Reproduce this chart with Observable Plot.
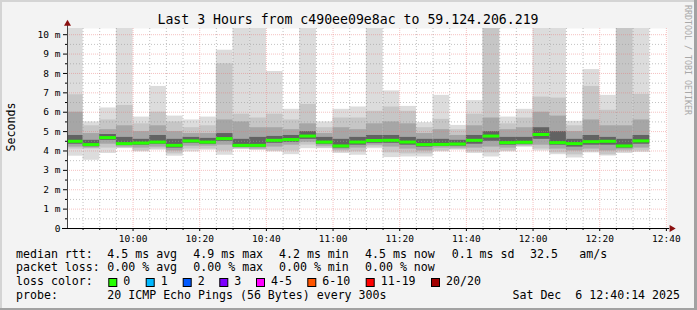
<!DOCTYPE html>
<html><head><meta charset="utf-8">
<script src="https://cdn.jsdelivr.net/npm/d3@7"></script>
<script src="https://cdn.jsdelivr.net/npm/@observablehq/plot@0.6"></script>
<style>body{margin:0;background:#f3f3f3;}</style>
</head><body><div id="chart"></div>
<script>
// 5-minute bins (start times), Sat Dec 6 2025
const times = ["09:40","09:45","09:50","09:55","10:00","10:05","10:10","10:15","10:20","10:25","10:30","10:35","10:40","10:45","10:50","10:55","11:00","11:05","11:10","11:15","11:20","11:25","11:30","11:35","11:40","11:45","11:50","11:55","12:00","12:05","12:10","12:15","12:20","12:25","12:30"];
// RTT in milliseconds (smoke bands from 20 pings)
const maxV   = [12,5.5,6.22,12,5.75,7.33,5.8,5.6,5.75,9.2,12,12,8.1,6.15,12,5.5,6.15,6.27,12,7.1,6.3,5.46,6.87,5.32,6.6,12,5.75,6.15,12,12,5.53,8.2,6.87,12,12];
const hi1    = [6.9,5.3,5.6,6.35,5.4,6.0,5.5,5.2,5.3,8.5,5.9,5.7,5.9,5.6,6.4,5.2,5.7,5.7,6.05,6.27,6.05,5.2,5.63,5.1,5.9,11,5.4,5.7,6.78,6.73,5.3,7.33,6.1,11,6.92];
const hi2    = [6.0,4.9,5.1,5.3,5.0,5.3,5.0,4.9,4.9,5.6,5.5,5.2,5.2,5.1,5.4,4.9,5.2,5.1,5.4,5.5,5.4,4.9,5.1,4.8,5.3,5.7,5.1,5.2,6.0,5.8,5.0,5.6,5.3,5.3,5.6];
const hi3    = [4.8,4.55,4.85,4.7,4.6,4.8,4.6,4.7,4.65,4.9,4.6,4.7,4.75,4.8,5.0,4.7,4.6,4.7,4.8,4.8,4.7,4.6,4.6,4.55,4.8,5.0,4.7,4.7,5.2,5.0,4.6,4.8,4.7,4.6,4.8];
const median = [4.5,4.33,4.69,4.38,4.41,4.46,4.29,4.52,4.46,4.64,4.29,4.29,4.55,4.59,4.77,4.46,4.26,4.46,4.54,4.55,4.46,4.33,4.34,4.36,4.55,4.77,4.43,4.45,4.85,4.43,4.38,4.48,4.5,4.26,4.52];
const lo3    = [4.35,4.22,4.55,4.3,4.3,4.35,4.15,4.4,4.35,4.5,4.2,4.2,4.4,4.45,4.6,4.35,4.15,4.3,4.4,4.4,4.3,4.2,4.25,4.25,4.35,4.5,4.3,4.35,4.6,4.3,4.2,4.3,4.3,4.15,4.35];
const lo2    = [4.2,4.15,4.35,4.2,4.15,4.2,4.0,4.25,4.25,4.3,4.15,4.1,4.2,4.3,4.45,4.25,4.05,4.15,4.3,4.2,4.1,4.0,4.15,4.15,4.15,4.2,4.15,4.28,4.3,4.1,4.0,4.1,4.0,4.05,4.15];
const lo1    = [4.1,4.1,4.15,4.15,4.0,4.1,3.85,4.1,4.1,4.0,4.1,4.05,4.0,4.0,4.3,4.15,3.95,3.95,4.2,3.9,3.85,3.85,4.0,4.08,3.95,3.9,4.0,4.22,4.1,3.9,3.8,3.95,3.8,3.95,4.0];
const minV   = [3.73,3.52,3.87,4.12,3.95,4.04,3.73,3.95,4.04,3.78,4.07,4.04,3.95,3.81,4.12,4.12,3.87,3.78,4.12,3.66,3.69,3.69,3.95,4.04,3.87,3.69,3.95,4.2,4.0,3.81,3.64,3.9,3.74,3.87,3.92];

const yTicks = [0,1,2,3,4,5,6,7,8,9,10];
const xTicks = ["10:00","10:20","10:40","11:00","11:20","11:40","12:00","12:20","12:40"];

const lossLabels = ["0","1","2","3","4-5","6-10","11-19","20/20"];
const lossColors = ["#26ff00","#00b8ff","#0059ff","#7e00ff","#ff00ff","#ff5500","#ff0000","#a10000"];

const titleText = "Last 3 Hours from c490ee09e8ac to 59.124.206.219";
const statsRtt  = ["4.5 ms avg","4.9 ms max","4.2 ms min","4.5 ms now","0.1 ms sd","32.5","am/s"];
const statsLoss = ["0.00 % avg","0.00 % max","0.00 % min","0.00 % now"];
const probeText = "20 ICMP Echo Pings (56 Bytes) every 300s";
const stampText = "Sat Dec  6 12:40:14 2025";

const T = s => new Date(`2025-12-06T${s.length === 5 ? s + ":00" : s}Z`);
const bars = times.map((t, i) => ({
  t0: T(t), t1: new Date(T(t).getTime() + 5 * 60000),
  maxV: maxV[i], hi1: hi1[i], hi2: hi2[i], hi3: hi3[i], median: median[i],
  lo3: lo3[i], lo2: lo2[i], lo1: lo1[i], minV: minV[i]
}));
const x0 = T("09:40:20"), x1 = T("12:40:20");
const minorX = d3.utcMinute.every(5).range(x0, x1).filter(d => d.getUTCMinutes() % 20 !== 0);
const majorX = xTicks.map(T);
const minorY = d3.range(0.5, 10, 1);
const majorY = yTicks.slice(1);
const fmt = d3.utcFormat("%H:%M");

const band = (lo, hi, fill) => Plot.rect(bars, {x1: "t0", x2: "t1", y1: lo, y2: hi, fill, clip: true});

const svg = Plot.plot({
  width: 697, height: 310,
  marginLeft: 67, marginRight: 30, marginTop: 28, marginBottom: 82,
  style: {background: "#f3f3f3", fontFamily: "DejaVu Sans Mono", fontSize: "9.5px", color: "#000"},
  x: {type: "utc", domain: [x0, x1]},
  y: {domain: [0, 10.32]},
  marks: [
    Plot.frame({fill: "white", stroke: null}),
    band("minV", "maxV", "#dcdcdc"),
    band("lo1", "hi1", "#c6c6c6"),
    band("lo2", "hi2", "#a6a6a6"),
    band("lo3", "hi3", "#626262"),
    Plot.ruleY(minorY, {stroke: "#9a9a9a", strokeOpacity: 0.6, strokeDasharray: "1,2"}),
    Plot.ruleX(minorX, {stroke: "#9a9a9a", strokeOpacity: 0.6, strokeDasharray: "1,2"}),
    Plot.ruleY(majorY, {stroke: "#e87878", strokeOpacity: 0.45, strokeDasharray: "1,1"}),
    Plot.ruleX(majorX, {stroke: "#e87878", strokeOpacity: 0.45, strokeDasharray: "1,1"}),
    Plot.ruleY(bars, {x1: "t0", x2: "t1", y: "median", stroke: "#26ff00", strokeWidth: 3, clip: true}),
    Plot.axisY(minorY, {tickSize: 2, tickFormat: () => "", label: null}),
    Plot.axisY(yTicks, {tickSize: 4, tickPadding: 3, tickFormat: d => d === 0 ? "0" : `${d} m`, label: null}),
    Plot.axisX(minorX, {tickSize: 2, tickFormat: () => "", label: null}),
    Plot.axisX(majorX, {tickSize: 3, tickPadding: 4, tickFormat: fmt, label: null}),
    Plot.ruleY([0], {x1: T("09:38:50"), x2: T("12:41:00"), stroke: "#000"}),
    Plot.ruleX([x0], {y1: 0, y2: 10.5, stroke: "#444"}),
    Plot.dot([{t: T("12:41:35"), v: 0}], {x: "t", y: "v", symbol: "triangle", r: 2.6, fill: "#8b1010", stroke: null, rotate: 90}),
    Plot.dot([{t: x0, v: 10.56}], {x: "t", y: "v", symbol: "triangle", r: 2.6, fill: "#8b1010", stroke: null})
  ]
});
document.getElementById("chart").appendChild(svg);

const s = d3.select(svg);
const F = "DejaVu Sans Mono";
// frame shadow
s.append("rect").attr("x", 0).attr("y", 0).attr("width", 697).attr("height", 2).attr("fill", "#d4d4d4");
s.append("rect").attr("x", 0).attr("y", 0).attr("width", 2).attr("height", 310).attr("fill", "#d4d4d4");
s.append("rect").attr("x", 694).attr("y", 0).attr("width", 3).attr("height", 310).attr("fill", "#a2a2a2");
s.append("rect").attr("x", 0).attr("y", 308).attr("width", 697).attr("height", 2).attr("fill", "#a2a2a2");

s.append("text").attr("x", 348).attr("y", 24).attr("text-anchor", "middle")
  .attr("font-family", F).attr("font-size", "13.2px").attr("fill", "#000").text(titleText);

s.append("text").attr("transform", "translate(15,127) rotate(-90)").attr("text-anchor", "middle")
  .attr("font-family", F).attr("font-size", "11.6px").attr("fill", "#000").text("Seconds");

s.append("text").attr("transform", "translate(685,5) rotate(90)").attr("text-anchor", "start")
  .attr("font-family", F).attr("font-size", "8.3px").attr("fill", "#a8a8a8").text("RRDTOOL / TOBI OETIKER");

const lt = (x, y, t, anchor = "start") => s.append("text").attr("x", x).attr("y", y)
  .attr("text-anchor", anchor).attr("font-family", F).attr("font-size", "11.6px").attr("fill", "#000")
  .style("white-space", "pre").text(t);

const rows = [257.7, 271.3, 285, 298.7];
lt(16, rows[0], "median rtt:");
const rttX = [107.3, 193.3, 279, 365, 451.7, 530, 579.3];
statsRtt.forEach((t, i) => lt(rttX[i], rows[0], t));
lt(16, rows[1], "packet loss:");
statsLoss.forEach((t, i) => lt(rttX[i], rows[1], t));
lt(16, rows[2], "loss color:");
const boxX = [108.3, 145.7, 182.7, 219.3, 256, 307.3, 365.7, 431];
lossLabels.forEach((l, i) => {
  s.append("rect").attr("x", boxX[i] + 0.5).attr("y", 278.5).attr("width", 8).attr("height", 8)
    .attr("fill", lossColors[i]).attr("stroke", "#000").attr("stroke-width", 1);
  lt(boxX[i] + 15, rows[2], l);
});
lt(16, rows[3], "probe:");
lt(107.3, rows[3], probeText);
lt(680, rows[3], stampText, "end");
</script>
</body></html>
